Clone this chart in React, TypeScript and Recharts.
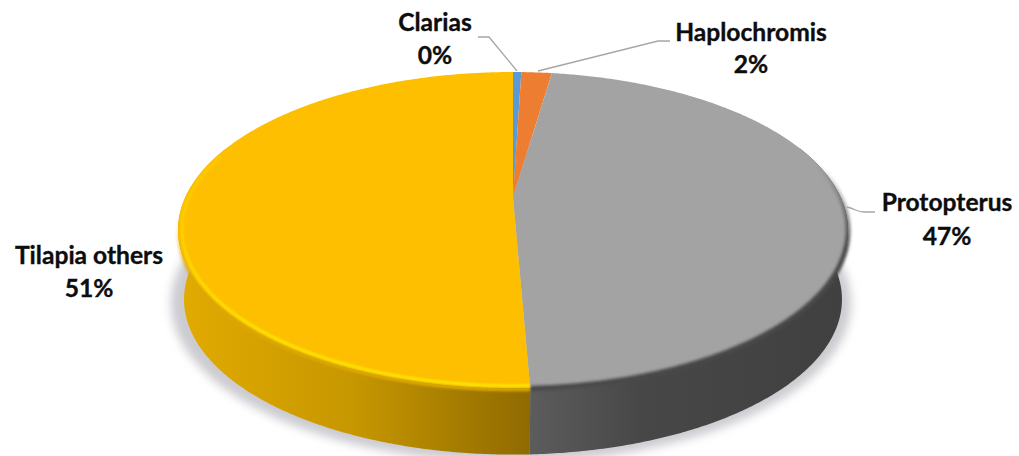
import React from "react";
import { PieChart, Pie } from "recharts";

const categories = ["Clarias", "Haplochromis", "Protopterus", "Tilapia others"];
const shares = [0.49, 1.8, 47.05, 50.66];
const colors = ["#5B9BD5", "#ED7D31", "#A3A3A3", "#FDBF00"];

const tableData = categories.map((name, i) => ({ name, value: shares[i], fill: colors[i] }));
const total = shares.reduce((a, b) => a + b, 0);

// Layout (projection of the tilted disc, and label placement)
const W = 1019;
const H = 456;
const CX = 513;
const CY = 197;
const A = 327.6;
const B = 151.1;
const K = 0.209;
const WALL_DY = 70;
const WALL_SCALE = 0.982;
const FONT = "Lato, Carlito, sans-serif";

const labelLayout = [
  { x: 435, y1: 31, y2: 64, line: "M478 37 L489 37 L517 71" },
  { x: 751, y1: 41, y2: 73, line: "M538 71 L658 41 L670 41" },
  { x: 947, y1: 211, y2: 245, line: "M847 207 C855 209 858 212 864 212 L875 212" },
  { x: 89, y1: 264, y2: 297, line: "" },
];

const project = (deg: number, cx: number, cy: number, scale = 1, dy = 0) => {
  const r = (deg * Math.PI) / 180;
  const u = Math.cos(r);
  const v = -Math.sin(r);
  const w = 1 - K * v;
  return [cx + (scale * A * u) / w, cy + dy + (scale * B * v) / w, v];
};

const arcPts = (start: number, end: number, cx: number, cy: number, scale = 1, dy = 0, minV = -2) => {
  const n = Math.max(2, Math.ceil(Math.abs(end - start) * 2));
  const pts: number[][] = [];
  for (let i = 0; i <= n; i++) {
    const p = project(start + ((end - start) * i) / n, cx, cy, scale, dy);
    if (p[2] >= minV) pts.push(p);
  }
  return pts;
};

const toPath = (pts: number[][]) =>
  pts.map((p, i) => `${i ? "L" : "M"}${p[0].toFixed(2)} ${p[1].toFixed(2)}`).join(" ");

const Slice = (props: any) => {
  const { cx, cy, startAngle, endAngle, name, fill } = props;
  const idx = categories.indexOf(name);
  const top = arcPts(startAngle, endAngle, cx, cy);
  const face = `M${cx} ${cy} ${toPath(top).replace(/^M/, "L")} Z`;
  const wallTop = arcPts(startAngle, endAngle, cx, cy, 1, 0, -0.35);
  const wallBot = arcPts(startAngle, endAngle, cx, cy, WALL_SCALE, WALL_DY, -0.35);
  const hasWall = wallTop.length > 1;
  const wall = hasWall ? `${toPath(wallTop)} ${toPath([...wallBot].reverse()).replace(/^M/, "L")} Z` : "";
  const isYellow = idx === 3;
  const isGray = idx === 2;
  return (
    <g>
      {hasWall && <path d={wall} fill={isYellow ? "url(#wallGold)" : isGray ? "url(#wallGray)" : fill} />}
      <path d={face} fill={fill} />
      {isYellow && (
        <>
          <path
            d={toPath(arcPts(startAngle, endAngle, cx, cy, 1.0, 1.5, -0.3))}
            fill="none"
            stroke="url(#rimGold)"
            strokeWidth={3.5}
            filter="url(#soft1)"
          />
          <path
            d={toPath(arcPts(startAngle, endAngle, cx, cy, 0.988, 0, -0.3))}
            fill="none"
            stroke="url(#rimBright)"
            strokeWidth={2.6}
            filter="url(#soft1)"
          />
        </>
      )}
      {isGray && (
        <path
          d={toPath(arcPts(startAngle, endAngle, cx, cy, 1.0, 0.5, -0.35))}
          fill="none"
          stroke="url(#rimGray)"
          strokeWidth={5}
          filter="url(#soft2)"
        />
      )}
    </g>
  );
};

const renderLabel = (props: any) => {
  const { index } = props;
  const l = labelLayout[index];
  const style = {
    fontFamily: FONT,
    fontWeight: 700,
    fontSize: 24.6,
    fill: "#0D0D0D",
    stroke: "#0D0D0D",
    strokeWidth: 0.35,
  };
  return (
    <g key={categories[index]}>
      {l.line && <path d={l.line} fill="none" stroke="#A6A6A6" strokeWidth={1.3} />}
      <text x={l.x} y={l.y1} textAnchor="middle" style={style}>
        {categories[index]}
      </text>
      <text x={l.x} y={l.y2} textAnchor="middle" style={style}>
        {Math.round((shares[index] / total) * 100)}%
      </text>
    </g>
  );
};

export default function App() {
  return (
    <div style={{ position: "absolute", left: 0, top: 0, width: W, height: H, background: "#fff", overflow: "hidden" }}>
      <PieChart width={W} height={H} margin={{ top: 0, right: 0, bottom: 0, left: 0 }}>
        <defs>
          <linearGradient id="wallGold" gradientUnits="userSpaceOnUse" x1={177} y1={0} x2={530} y2={0}>
            <stop offset="0" stopColor="#E2AB00" />
            <stop offset="0.5" stopColor="#C79700" />
            <stop offset="1" stopColor="#8F6A00" />
          </linearGradient>
          <linearGradient id="wallGray" gradientUnits="userSpaceOnUse" x1={530} y1={0} x2={848} y2={0}>
            <stop offset="0" stopColor="#5C5C5C" />
            <stop offset="0.35" stopColor="#474747" />
            <stop offset="1" stopColor="#404040" />
          </linearGradient>
          <linearGradient id="rimGold" gradientUnits="userSpaceOnUse" x1={0} y1={215} x2={0} y2={300}>
            <stop offset="0" stopColor="#DDA800" stopOpacity={0} />
            <stop offset="1" stopColor="#DDA800" stopOpacity={1} />
          </linearGradient>
          <linearGradient id="rimBright" gradientUnits="userSpaceOnUse" x1={0} y1={190} x2={0} y2={340}>
            <stop offset="0" stopColor="#FFD800" stopOpacity={0.5} />
            <stop offset="0.5" stopColor="#FFE000" stopOpacity={0.85} />
            <stop offset="1" stopColor="#FFEA00" stopOpacity={1} />
          </linearGradient>
          <linearGradient id="rimGray" gradientUnits="userSpaceOnUse" x1={0} y1={165} x2={0} y2={250}>
            <stop offset="0" stopColor="#484848" stopOpacity={0} />
            <stop offset="1" stopColor="#484848" stopOpacity={1} />
          </linearGradient>
          <filter id="soft1" x="-5%" y="-5%" width="110%" height="110%">
            <feGaussianBlur stdDeviation="1.2" />
          </filter>
          <filter id="soft2" x="-5%" y="-5%" width="110%" height="110%">
            <feGaussianBlur stdDeviation="1.8" />
          </filter>
          <filter id="shadowBlur" x="-10%" y="-20%" width="120%" height="140%">
            <feGaussianBlur stdDeviation="5" />
          </filter>
        </defs>
        <ellipse cx={511} cy={303} rx={340} ry={159} fill="#CBCBD0" filter="url(#shadowBlur)" />
        <Pie
          data={tableData}
          dataKey="value"
          nameKey="name"
          cx={CX}
          cy={CY}
          outerRadius={150}
          startAngle={90}
          endAngle={-270}
          stroke="none"
          shape={Slice}
          label={renderLabel}
          labelLine={false}
          isAnimationActive={false}
        />
      </PieChart>
    </div>
  );
}
